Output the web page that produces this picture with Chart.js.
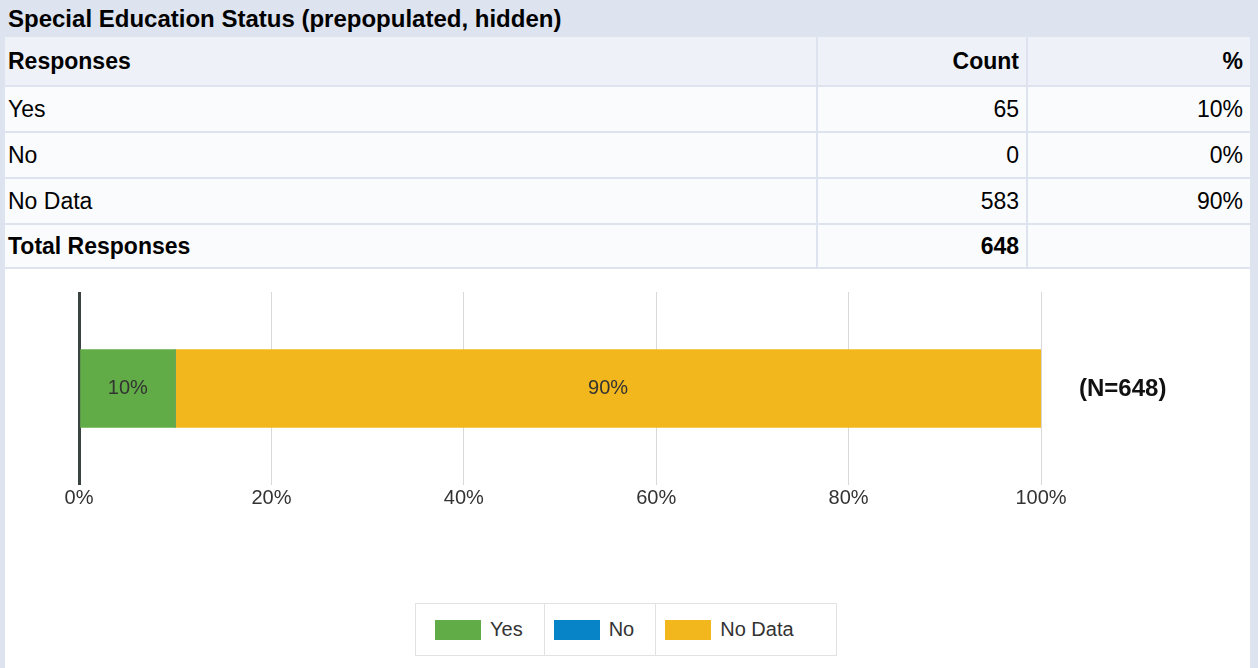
<!DOCTYPE html>
<html>
<head>
<meta charset="utf-8">
<script src="https://cdn.jsdelivr.net/npm/chart.js@4.4.1/dist/chart.umd.min.js"></script>
<style>
  body { margin: 0; background: #dde3ef; font-family: "Liberation Sans", Arial, sans-serif; width: 1258px; height: 668px; overflow: hidden; position: relative; }
  #title { position: absolute; left: 8px; top: 0; height: 35px; line-height: 37px; font-size: 24px; font-weight: bold; color: #000; white-space: nowrap; }
  #grid { position: absolute; left: 5px; top: 37px; display: grid; grid-template-columns: 811px 208px 222px; grid-template-rows: 48px 44px 44px 44px 42px; gap: 2px; }
  #grid div { background: #fafbfd; font-size: 23px; color: #000; display: flex; align-items: center; padding: 0 7px 0 3px; }
  #grid div.h { background: #eef1f8; font-weight: bold; }
  #grid div.b { font-weight: bold; }
  #grid div.r { justify-content: flex-end; }
  #chartBox { position: absolute; left: 5px; top: 269px; width: 1245px; height: 399px; background: #fff; }
  #chartWrap { position: absolute; left: 0; top: 0; width: 1245px; height: 300px; }
  #legend { position: absolute; left: 410px; top: 334px; display: flex; border: 1px solid #e2e2e2; height: 51px; font-size: 20px; color: #333; }
  #legend .item { display: flex; align-items: center; padding: 0 21px 0 9px; border-right: 1px solid #e2e2e2; }
  #legend .item:first-child { padding-left: 19px; }
  #legend .item:last-child { border-right: none; padding-right: 42px; }
  #legend .sw { width: 46px; height: 20px; margin-right: 9px; }
</style>
</head>
<body>
<div id="title"></div>
<div id="grid"></div>
<div id="chartBox">
  <div id="chartWrap"><canvas id="chart"></canvas></div>
  <div id="legend"></div>
</div>
<script>
// データ
const titleText = "Special Education Status (prepopulated, hidden)";
const responses = ["Yes", "No", "No Data"];
const counts = [65, 0, 583];
const percents = [10, 0, 90];
const totalCount = 648;
const colors = ["#62ac47", "#0784c8", "#f2b71d"];
const xTicks = [0, 20, 40, 60, 80, 100];

document.getElementById("title").textContent = titleText;

// 表
const grid = document.getElementById("grid");
function cell(text, cls) {
  const d = document.createElement("div");
  d.className = cls;
  d.textContent = text;
  grid.appendChild(d);
}
cell("Responses", "h");
cell("Count", "h r");
cell("%", "h r");
responses.forEach((r, i) => {
  cell(r, "");
  cell(String(counts[i]), "r");
  cell(percents[i] + "%", "r");
});
cell("Total Responses", "b");
cell(String(totalCount), "b r");
cell("", "");

// 凡例
const legend = document.getElementById("legend");
responses.forEach((r, i) => {
  const item = document.createElement("div");
  item.className = "item";
  const sw = document.createElement("span");
  sw.className = "sw";
  sw.style.background = colors[i];
  item.appendChild(sw);
  item.appendChild(document.createTextNode(r));
  legend.appendChild(item);
});

// バー内ラベルと N 表示
const labelPlugin = {
  id: "labels",
  afterDatasetsDraw(chart) {
    const ctx = chart.ctx;
    ctx.save();
    ctx.font = "20px 'Liberation Sans', Arial, sans-serif";
    ctx.fillStyle = "#333";
    ctx.textAlign = "center";
    ctx.textBaseline = "middle";
    chart.data.datasets.forEach((ds, i) => {
      const bar = chart.getDatasetMeta(i).data[0];
      if (!ds.data[0]) return;
      ctx.fillText(ds.data[0] + "%", (bar.base + bar.x) / 2, bar.y);
    });
    const y = chart.getDatasetMeta(0).data[0].y;
    ctx.font = "bold 24px 'Liberation Sans', Arial, sans-serif";
    ctx.fillStyle = "#111";
    ctx.textAlign = "left";
    ctx.fillText("(N=" + totalCount + ")", chart.chartArea.right + 38, y + 1);
    ctx.restore();
  }
};

new Chart(document.getElementById("chart"), {
  type: "bar",
  data: {
    labels: [""],
    datasets: responses.map((r, i) => ({
      label: r,
      data: [percents[i]],
      backgroundColor: colors[i],
      barThickness: 78
    }))
  },
  options: {
    indexAxis: "y",
    responsive: true,
    maintainAspectRatio: false,
    animation: false,
    layout: { padding: { left: 74, right: 209, top: 23, bottom: 58 } },
    plugins: { legend: { display: false }, tooltip: { enabled: false } },
    scales: {
      x: {
        stacked: true,
        min: 0,
        max: 100,
        afterBuildTicks(axis) { axis.ticks = xTicks.map(v => ({ value: v })); },
        border: { display: false },
        grid: {
          color: c => c.index === 0 ? "#3b4242" : "#d9d9d9",
          lineWidth: c => c.index === 0 ? 3 : 1,
          drawTicks: false
        },
        ticks: {
          padding: 1,
          color: "#333",
          font: { size: 20, family: "'Liberation Sans', Arial, sans-serif" },
          callback: v => v + "%"
        }
      },
      y: {
        stacked: true,
        display: false
      }
    }
  },
  plugins: [labelPlugin]
});
</script>
</body>
</html>
